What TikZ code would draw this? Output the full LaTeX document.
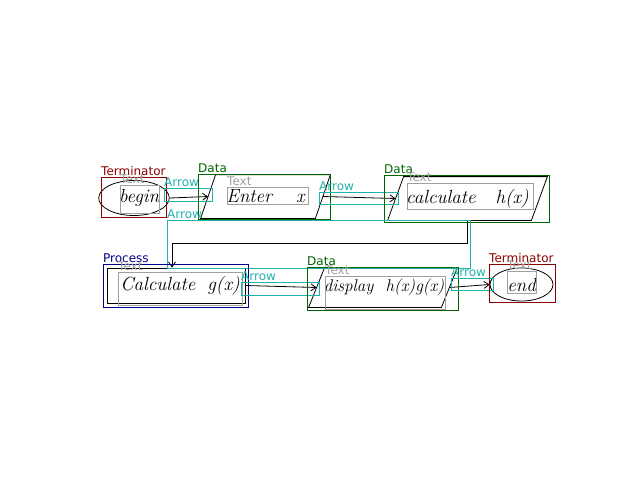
\documentclass[tikz,border=0pt]{standalone}
\usepackage{fontspec}
\newfontfamily\tagfont{DejaVu Sans}
\usetikzlibrary{arrows.meta, positioning, shapes.geometric, fit}

\definecolor{termred}{RGB}{139,0,0}
\definecolor{datagreen}{RGB}{0,100,0}
\definecolor{procblue}{RGB}{0,0,139}
\definecolor{arrowcyan}{RGB}{32,178,170}
\definecolor{textgray}{RGB}{160,160,160}

\tikzset{
  hand/.style={line width=0.8pt, inner sep=0pt, font=\fontsize{19}{19}\selectfont\itshape},
  % parallelogram: the node is its mid line, #1 is half the slant
  slanted/.style={hand, rectangle, append after command={\pgfextra{
      \draw[line width=0.8pt] ([xshift=#1]\tikzlastnode.north west) -- ([xshift=#1]\tikzlastnode.north east)
        -- ([xshift=-#1]\tikzlastnode.south east) -- ([xshift=-#1]\tikzlastnode.south west) -- cycle;}}},
  tag/.style={font=\tagfont\fontsize{12}{12}\selectfont, inner sep=0.5pt, anchor=south west},
}

% annotation box: colour, name, corner, corner, label
\newcommand{\tagbox}[5]{%
  \node[draw=#1, line width=1pt, inner sep=0pt, fit={(#3) (#4)},
        label={[tag, text=#1]north west:#5}] (#2) {};}

\begin{document}
\begin{tikzpicture}[x=1pt, y=-1pt, >={Straight Barb[length=5pt, width=7pt]}]
  \useasboundingbox (0,0) rectangle (640,480);

  % the hand-drawn chart
  \node[hand, draw, ellipse, minimum width=62pt, minimum height=35pt] (begin) at (134,198) {\hspace{10pt}begin};
  \node[slanted=7.5pt, minimum width=114pt, minimum height=43pt] (enter) at (265.5,196.5) {Enter\hspace{24pt}x};
  \node[slanted=8pt, minimum width=143pt, minimum height=43pt] (calch) at (467.5,198.5) {calculate\hspace{20pt}h(x)};
  \node[hand, draw, rectangle, minimum width=138pt, minimum height=35pt] (calcg) at (176,285.5) {\hspace{8pt}Calculate\hspace{12pt}g(x)};
  \node[slanted=8pt, minimum width=132pt, minimum height=39pt, font=\fontsize{17}{17}\selectfont\itshape]
    (display) at (383,287.5) {\hspace{2pt}display\hspace{12pt}h(x)g(x)};
  \node[hand, draw, ellipse, minimum width=63pt, minimum height=33pt] (end) at (521.5,284.5) {end};

  % connectors
  \draw[->, line width=0.8pt] (begin.east) -- (enter.west);
  \draw[->, line width=0.8pt] (enter.east) -- (calch.west);
  \draw[->, line width=0.8pt] (calch.south) -- ++(0,23) -| ([xshift=-4pt]calcg.north);
  \draw[->, line width=0.8pt] (calcg.east) -- (display.west);
  \draw[->, line width=0.8pt] (display.east) -- (end.west);

  % annotation boxes
  \tagbox{termred}{tbegin}{101,177}{166,217}{Terminator}
  \tagbox{textgray}{xbegin}{120,185}{159,213}{Text}
  \tagbox{arrowcyan}{aone}{164,188}{212,201}{Arrow}
  \tagbox{datagreen}{denter}{198,174}{330,219}{Data}
  \tagbox{textgray}{xenter}{227,187}{308,204}{Text}
  \tagbox{arrowcyan}{atwo}{319,192}{398,204}{Arrow}
  \tagbox{datagreen}{dcalch}{384,175}{549,222}{Data}
  \tagbox{textgray}{xcalch}{407,183}{533,209}{Text}
  \tagbox{arrowcyan}{athree}{167,220}{470,268}{Arrow}
  \tagbox{procblue}{pcalcg}{103,264}{248,307}{Process}
  \tagbox{textgray}{xcalcg}{118,272}{242,305}{Text}
  \tagbox{arrowcyan}{afour}{241,282}{319,295}{Arrow}
  \tagbox{datagreen}{ddisplay}{307,267}{458,310}{Data}
  \tagbox{textgray}{xdisplay}{325,276}{445,309}{Text}
  \tagbox{arrowcyan}{afive}{451,278}{493,290}{Arrow}
  \tagbox{termred}{tend}{489,264}{555,302}{Terminator}
  \tagbox{textgray}{xend}{507,271}{536,293}{Text}
\end{tikzpicture}
\end{document}
